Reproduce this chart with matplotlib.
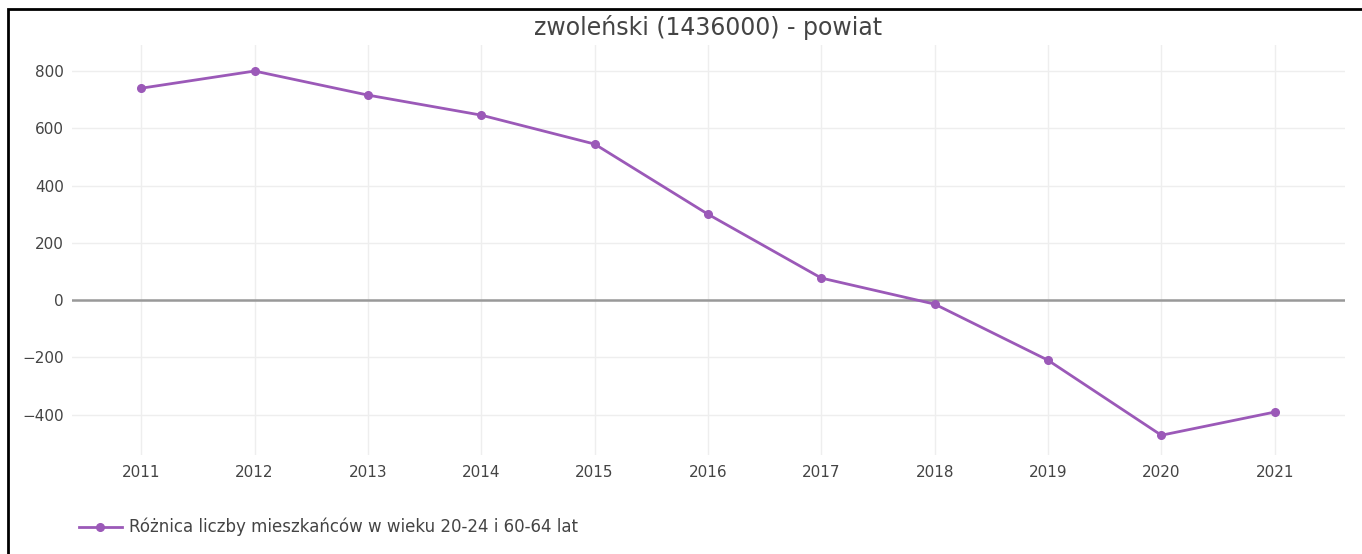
import matplotlib
matplotlib.use('Agg')
import matplotlib.pyplot as plt
from matplotlib.patches import Rectangle

years = [2011, 2012, 2013, 2014, 2015, 2016, 2017, 2018, 2019, 2020, 2021]
values = [740, 800, 716, 646, 545, 300, 77, -14, -210, -472, -391]
series_name = 'Różnica liczby mieszkańców w wieku 20-24 i 60-64 lat'
title = 'zwoleński (1436000) - powiat'

line_color = '#9b59b8'
text_color = '#444444'

fig = plt.figure(figsize=(13.62, 5.54), dpi=100)
ax = fig.add_axes([0.0529, 0.1787, 0.9346, 0.7401])

ax.plot(years, values, color=line_color, lw=2, marker='o', ms=5.5, zorder=3,
        label=series_name)
ax.axhline(0, color='#999999', lw=1.8, zorder=2)

ax.set_xlim(2010.39, 2021.62)
ax.set_ylim(-541, 891)
ax.set_xticks(years)
ax.set_yticks([-400, -200, 0, 200, 400, 600, 800])
ax.set_yticklabels(['\u2212400', '\u2212200', '0', '200', '400', '600', '800'])
ax.grid(True, color='#eeeeee', lw=1, zorder=0)
ax.tick_params(length=0, labelsize=11, colors=text_color)
ax.tick_params(axis='x', pad=7)
ax.tick_params(axis='y', pad=6)
for s in ax.spines.values():
    s.set_visible(False)

fig.text(708 / 1362, 0.95, title, ha='center', va='center', fontsize=17, color=text_color)

ax.legend(loc='center left', bbox_to_anchor=(0.0, -0.176), frameon=False,
          fontsize=12, labelcolor=text_color, handlelength=2.6,
          borderaxespad=0, handletextpad=0.4)

# outer frame from the screenshot
fig.patches.append(Rectangle((8 / 1362, -0.1), 1.2, (554 - 9) / 554 + 0.1,
                             transform=fig.transFigure, fill=False,
                             edgecolor='black', lw=2))

fig.savefig('out.png', dpi=100)
